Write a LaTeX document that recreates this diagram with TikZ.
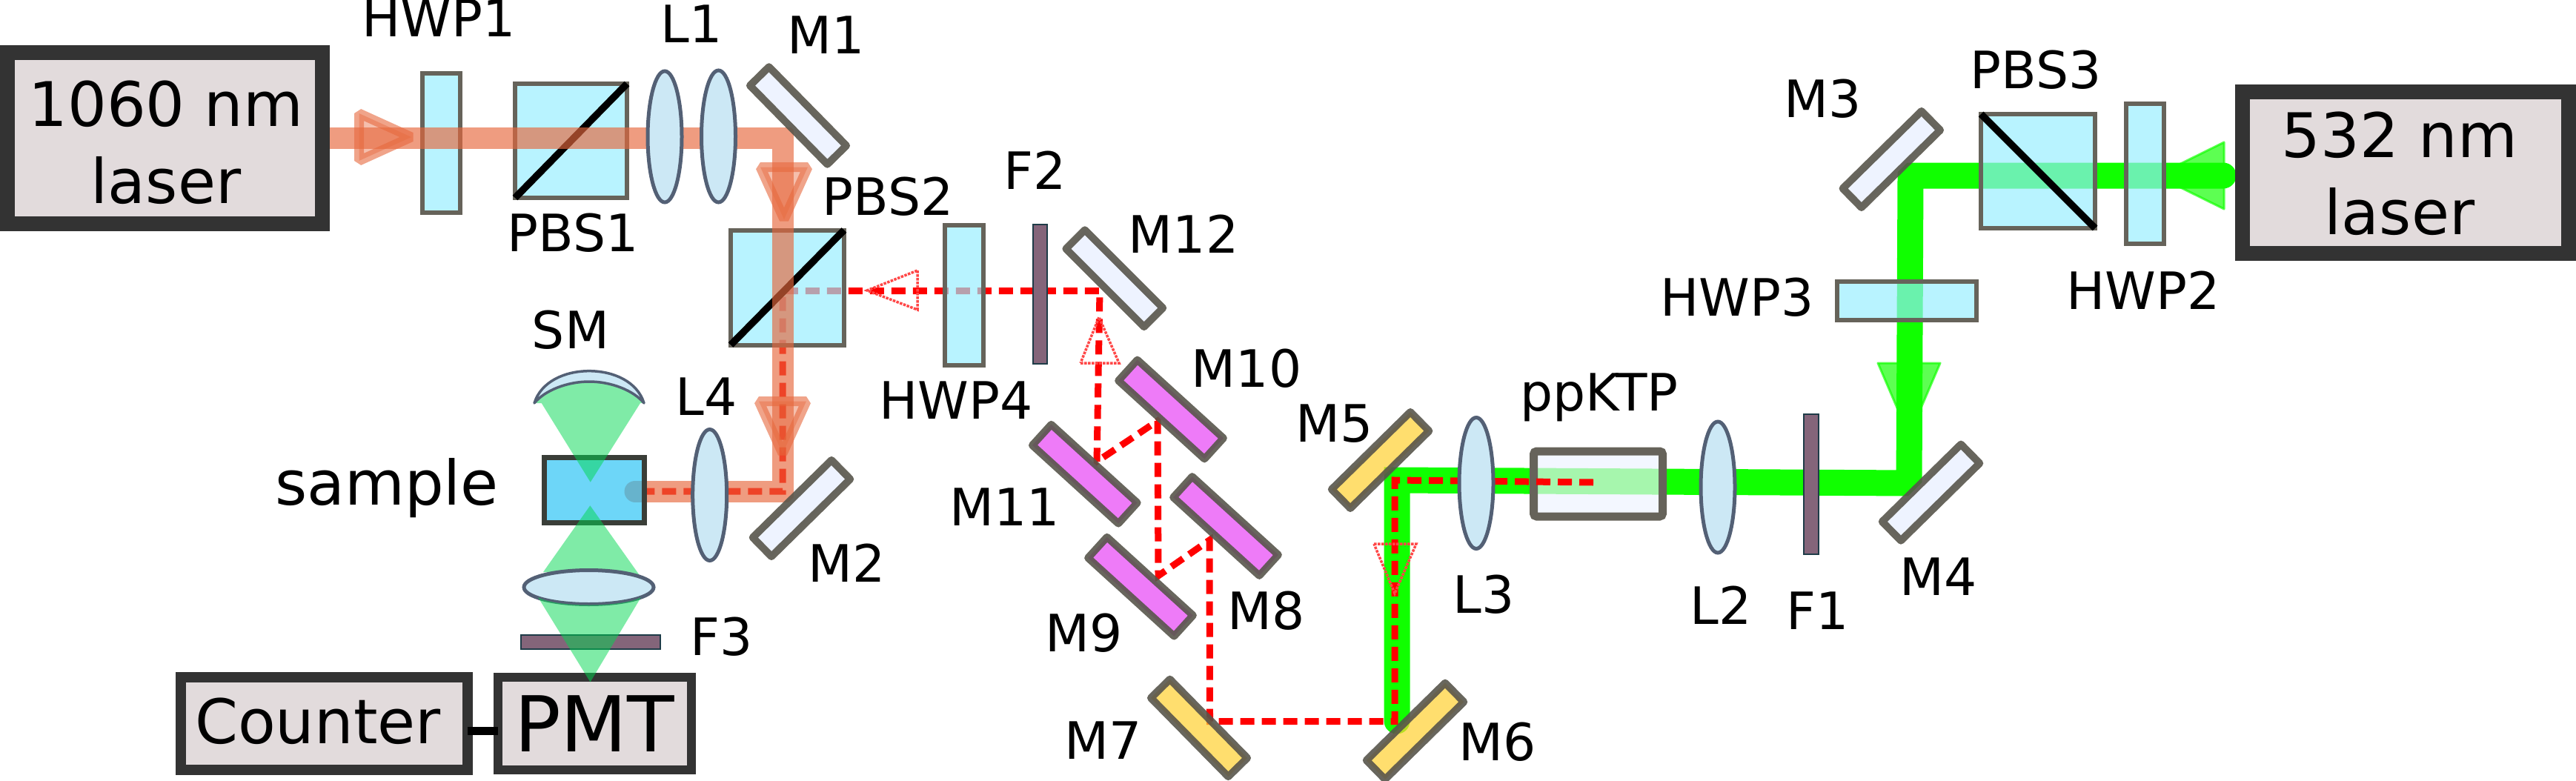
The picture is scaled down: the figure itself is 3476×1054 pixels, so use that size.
\documentclass[tikz,border=0pt]{standalone}
\usepackage{fontspec}
\setmainfont{DejaVu Sans}
\usetikzlibrary{shapes.geometric}
\definecolor{cubefill}{RGB}{150,237,255}
\definecolor{edgegrey}{RGB}{102,99,90}
\definecolor{mirroredge}{RGB}{88,85,75}
\definecolor{salmonbeam}{RGB}{230,103,60}
\definecolor{greenbeam}{RGB}{16,255,0}
\definecolor{conegreen}{RGB}{0,215,80}
\definecolor{lensfill}{RGB}{204,232,245}
\definecolor{lensedge}{RGB}{83,96,117}
\definecolor{filterfill}{RGB}{132,101,122}
\definecolor{filteredge}{RGB}{30,60,72}
\definecolor{mirrorpale}{RGB}{238,243,255}
\definecolor{mirrorpink}{RGB}{238,123,248}
\definecolor{mirrorgold}{RGB}{255,208,48}
\definecolor{boxfill}{RGB}{226,219,220}
\definecolor{boxedge}{RGB}{51,51,51}
\definecolor{samplefill}{RGB}{31,192,245}
\definecolor{sampleedge}{RGB}{58,62,56}
\tikzset{
  every node/.style={inner sep=0pt,outer sep=0pt},
  lab/.style={anchor=base,font=\fontsize{69.5}{69.5}\selectfont},
  boxtxt/.style={anchor=center,align=center,font=\fontsize{83}{104}\selectfont},
  devbox/.style={draw=boxedge,fill=boxfill,line width=20pt},
  plate/.style={draw=edgegrey,fill=cubefill,fill opacity=.68,line width=6pt},
  diag/.style={draw=black,line width=9.5pt},
  lens/.style={ellipse,draw=lensedge,fill=lensfill,line width=5pt},
  filt/.style={draw=filteredge,fill=filterfill,line width=2pt},
  mirrorbase/.style={draw=mirroredge,draw opacity=.9,line width=10pt,line join=round,minimum width=149pt,minimum height=36pt},
  mpale/.style={mirrorbase,fill=mirrorpale},
  mgold/.style={mirrorbase,fill=mirrorgold,fill opacity=.7},
  mpink/.style={mirrorbase,fill=mirrorpink,minimum width=157pt,minimum height=38pt},
  salmon/.style={draw=salmonbeam,draw opacity=.65,line width=29pt,line cap=round},
  green/.style={draw=greenbeam,line width=35pt,line cap=round},
  redbeam/.style={draw=red,line width=9pt,dash pattern=on 19pt off 10pt},
  salmontri/.style={draw=salmonbeam,draw opacity=.6,fill=salmonbeam,fill opacity=.42,line width=13pt,line join=bevel},
  greentri/.style={fill=greenbeam,fill opacity=.68,draw=greenbeam,draw opacity=.68,line width=3pt,line join=round},
  redtri/.style={draw=red!72!white,line width=3.5pt,dash pattern=on 3.5pt off 1.5pt},
  cone/.style={fill=conegreen,fill opacity=.5},
}
\begin{document}
\begin{tikzpicture}[x=1pt,y=-1pt]
\useasboundingbox (0,0) rectangle (3476,1054);

% named way-points of the beams
\coordinate (gA) at (3000,237);
\coordinate (gB) at (2578,237);
\coordinate (gC) at (2576,652);
\coordinate (gD) at (1885,648);
\coordinate (gE) at (1885,973);
\coordinate (sA) at (440,186);
\coordinate (sB) at (1056,186);
\coordinate (sC) at (1056,663);
\coordinate (sD) at (857,663);
\coordinate (r0) at (2150,651);
\coordinate (r1) at (1882,648);
\coordinate (r2) at (1882,973.5);
\coordinate (r3) at (1632.5,973.5);
\coordinate (r4) at (1632,729);
\coordinate (r5) at (1563,777);
\coordinate (r6) at (1562,568);
\coordinate (r7) at (1480,623);
\coordinate (r8) at (1484,392.5);
\coordinate (r9) at (1056,392.5);
\coordinate (r10) at (1056,663);
\coordinate (r11) at (870,663);

% green beam and its arrows
\path[greentri] (3001,192) -- (3001,282) -- (2910,237) -- cycle;
\path[greentri] (2534,490) -- (2618,490) -- (2576,588) -- cycle;
\draw[green] (gA) -- (gB) -- (gC) -- (gD) -- (gE);

% optics that the green beam shows through
\node[plate,minimum width=51pt,minimum height=188pt] (hwp2) at (2894,234.5) {};
\node[plate,minimum width=188pt,minimum height=52pt] (hwp3) at (2573,406) {};
\node[plate,minimum width=154pt,minimum height=154pt] (pbs3) at (2750,231) {};
\draw[diag] (pbs3.north west) -- (pbs3.south east);
\node[draw=edgegrey,fill=mirrorpale,fill opacity=.68,line width=11pt,rounded corners=4pt,minimum width=174pt,minimum height=88pt] (ppktp) at (2156.5,653) {};

% red beam
\draw[redbeam] (r0) -- (r1) -- (r2) -- (r3) -- (r4) -- (r5) -- (r6) -- (r7) -- (r8) -- (r9) -- (r10) -- (r11);

% plates and cubes of the 1060 nm path
\node[plate,minimum width=51pt,minimum height=188pt] (hwp1) at (595.5,193) {};
\node[plate,minimum width=52pt,minimum height=189pt] (hwp4) at (1300.5,398.5) {};
\node[plate,minimum width=151pt,minimum height=154pt] (pbs1) at (770.5,190) {};
\draw[diag] (pbs1.north east) -- (pbs1.south west);
\node[plate,minimum width=153pt,minimum height=155pt] (pbs2) at (1062.5,388) {};
\draw[diag] (pbs2.north east) -- (pbs2.south west);

% salmon beam and arrows
\draw[salmon] (sA) -- (sB) -- (sC) -- (sD);
\path[salmontri] (484.5,153) -- (484.5,217) -- (555,185) -- cycle;
\path[salmontri] (1026,225.5) -- (1090,225.5) -- (1058,296) -- cycle;
\path[salmontri] (1024,541.5) -- (1088,541.5) -- (1056,612) -- cycle;

% sample, lasers
\node[draw=sampleedge,fill=samplefill,fill opacity=.65,line width=7pt,minimum width=135pt,minimum height=88pt] (sample) at (801.5,661.5) {};
\node[devbox,minimum width=425pt,minimum height=230pt] (laserA) at (222.5,186.5) {};
\node[devbox,minimum width=440pt,minimum height=217.5pt] (laserB) at (3245.5,232.75) {};
\node[boxtxt] (laserAtxt) at (224,192.5) {1060 nm\\laser};
\node[boxtxt] (laserBtxt) at (3238,234.5) {532 nm\\laser};

% red arrow outlines
\draw[redtri] (1238,365) -- (1238,418) -- (1170,392) -- cycle;
\draw[redtri] (1458,490) -- (1510,490) -- (1483,428) -- cycle;
\draw[redtri] (1854,734) -- (1911,734) -- (1882,801) -- cycle;

% detector boxes
\node[devbox,line width=14pt,minimum width=386.5pt,minimum height=125.5pt] (counter) at (437.25,976.25) {};
\node[devbox,line width=12pt,minimum width=261pt,minimum height=125pt] (pmt) at (802,976.5) {};
\draw[black,line width=11pt] (counter.east |- 0,986) -- (pmt.west |- 0,986);

% fluorescence cones, filter and lenses
\node[filt,minimum width=188pt,minimum height=18.5pt] (f3) at (796.5,866.5) {};
\path[cone] (724,541) .. controls (737,526) and (765,515) .. (795,515) .. controls (825,515) and (853,526) .. (866,541) -- (866,544) -- (864,544) -- (796.7,650.7) -- (730.7,544) -- (724,544) -- cycle;
\path[cone] (796.3,682.3) -- (733,772) -- (862,775) -- cycle;
\node[lens,minimum width=175pt,minimum height=46pt] (l5) at (794.5,792.5) {};
\path[cone] (726,806) .. controls (750,820) and (840,820) .. (865,806) -- (796.5,920.5) -- cycle;
\draw[draw=lensedge,fill=lensfill,line width=3.5pt,line join=round] (721,544) .. controls (730,515) and (762,500.7) .. (795,500.7) .. controls (828,500.7) and (860,515) .. (869,544) .. controls (855,527) and (825,515) .. (795,515) .. controls (765,515) and (735,527) .. (721,544) -- cycle;

% remaining lenses and filters
\node[lens,minimum width=46pt,minimum height=177pt] (l1a) at (897,184.5) {};
\node[lens,minimum width=46pt,minimum height=178pt] (l1b) at (969.5,184) {};
\node[lens,minimum width=46pt,minimum height=177pt] (l4) at (957.7,668) {};
\node[lens,minimum width=46pt,minimum height=177pt] (l3) at (1992,652) {};
\node[lens,minimum width=46pt,minimum height=177pt] (l2) at (2318,657.5) {};
\node[filt,minimum width=20pt,minimum height=189pt] (f1) at (2444,653.5) {};
\node[filt,minimum width=19pt,minimum height=188pt] (f2) at (1403.5,397) {};

% mirrors
\node[mpale,rotate=-45.5] (m1) at (1077,156) {};
\node[mpale,rotate=44.5] (m2) at (1081.5,686) {};
\node[mpale,rotate=44.5] (m3) at (2552.3,215) {};
\node[mpale,rotate=44.5] (m4) at (2605.5,664.6) {};
\node[mgold,rotate=44.5] (m5) at (1862.6,621) {};
\node[mgold,rotate=44.5] (m6) at (1909.5,986.7) {};
\node[mgold,rotate=-45.5] (m7) at (1618,982.4) {};
\node[mpink,rotate=-42.3] (m8) at (1654,710) {};
\node[mpink,rotate=-42.3] (m9) at (1539,791.7) {};
\node[mpink,rotate=-42.3] (m10) at (1580,552.5) {};
\node[mpink,rotate=-42.3] (m11) at (1463.8,639.7) {};
\node[mpale,rotate=-45] (m12) at (1503.8,375.7) {};

% labels
\node[lab] (tHWPa) at (592,50) {HWP1};
\node[lab] (tLa) at (933,58) {L1};
\node[lab] (tMa) at (1115,73) {M1};
\node[lab] (tPBSa) at (773,339) {PBS1};
\node[lab] (tPBSb) at (1198,290) {PBS2};
\node[lab] (tSM) at (770,470) {SM};
\node[lab] (tLd) at (953,560) {L4};
\node[lab,font=\fontsize{83}{83}\selectfont] (tsample) at (522,681) {sample};
\node[lab] (tMb) at (1143,785.5) {M2};
\node[lab] (tFc) at (974,884) {F3};
\node[lab] (tHWPd) at (1290,565) {HWP4};
\node[lab] (tFb) at (1397,255) {F2};
\node[lab] (tMl) at (1597,341.7) {M12};
\node[lab] (tMj) at (1682,522) {M10};
\node[lab] (tMk) at (1356,709) {M11};
\node[lab] (tMe) at (1801,596) {M5};
\node[lab] (tMh) at (1709,849) {M8};
\node[lab] (tMi) at (1463,879) {M9};
\node[lab] (tMg) at (1489,1024) {M7};
\node[lab] (tMf) at (2021,1026) {M6};
\node[lab] (tLc) at (2002,827) {L3};
\node[lab] (tppktp) at (2158,554) {ppKTP};
\node[lab] (tLb) at (2322,842) {L2};
\node[lab] (tFa) at (2453,849) {F1};
\node[lab] (tMd) at (2616,803.5) {M4};
\node[lab] (tMc) at (2460,158) {M3};
\node[lab] (tPBSc) at (2747,120) {PBS3};
\node[lab] (tHWPb) at (2892,417) {HWP2};
\node[lab] (tHWPc) at (2344,426) {HWP3};
\node[lab,font=\fontsize{83}{83}\selectfont] (tcounter) at (429,1003.5) {Counter};
\node[lab,font=\fontsize{104}{104}\selectfont] (tpmt) at (802,1014) {PMT};
\end{tikzpicture}
\end{document}
